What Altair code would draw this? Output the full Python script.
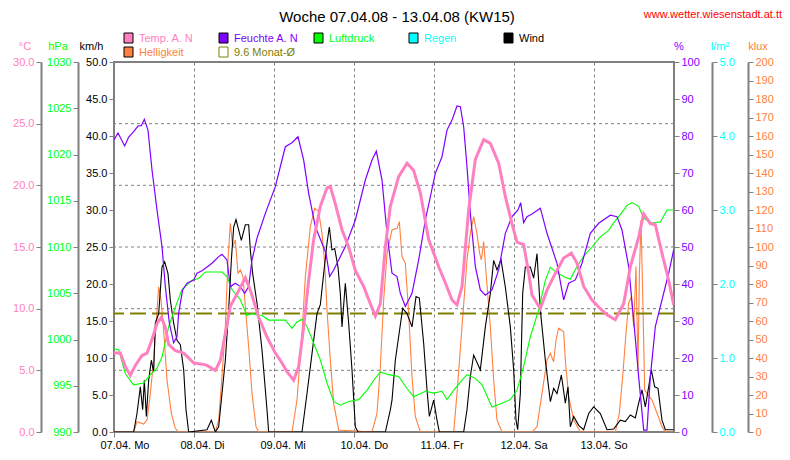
import altair as alt
import pandas as pd

FONT = "Liberation Sans"
GRAY = "#808080"
PINK = "#FF80C0"
PURPLE = "#8000FF"
GREEN = "#00FF00"
CYAN = "#00FFFF"
BLACK = "#000000"
ORANGE = "#FF8040"
OLIVE = "#808000"
RED = "#FF0000"

TITLE = "Woche 07.04.08 - 13.04.08 (KW15)"
URL = "www.wetter.wiesenstadt.at.tt"
DAY_LABELS = ["07.04. Mo", "08.04. Di", "09.04. Mi", "10.04. Do", "11.04. Fr", "12.04. Sa", "13.04. So"]
DAY_TICKS = [0, 24, 48, 72, 96, 120, 144]

# (hour since 07.04. 00:00, value)
temp = [(0, 6.4), (1.9, 6.4), (3.4, 5.3), (4.9, 4.6), (6.4, 5.4), (8.4, 6.2), (9.9, 6.4), (11.4, 7.5), (12.9, 8.8),
        (14.2, 9.3), (15.4, 8.5), (16.4, 7.1), (18.4, 6.6), (20.9, 6.4), (23.9, 5.6), (26.4, 5.5), (27.9, 5.4),
        (30.4, 5.0), (31.9, 5.8), (33.4, 8.0), (34.9, 10.2), (36.9, 11.2), (39.4, 12.5), (40.9, 11.5), (42.4, 10.2),
        (43.4, 9.3), (45.9, 7.7), (48.4, 6.4), (50.4, 5.6), (51.9, 4.9), (53.9, 4.2), (55.4, 5.3), (56.9, 8.5),
        (58.4, 12.3), (59.9, 15.6), (61.9, 18.3), (63.9, 19.8), (64.9, 19.9), (66.4, 18.5), (68.4, 16.4), (70.4, 15.0),
        (72.4, 13.1), (74.9, 11.8), (76.9, 10.4), (78.4, 9.4), (79.9, 10.4), (81.4, 15.0), (82.9, 18.3), (85.4, 20.7),
        (87.9, 21.8), (89.9, 21.2), (91.9, 19.4), (94.4, 15.6), (97.4, 13.4), (99.4, 12.1), (101.4, 10.7),
        (102.9, 10.3), (104.4, 11.8), (106.4, 18.0), (108.4, 22.1), (110.9, 23.7), (112.9, 23.4), (115.4, 21.8),
        (117.4, 19.1), (119.4, 16.9), (120.9, 15.4), (122.9, 15.2), (124.4, 12.9), (125.4, 11.1), (127.9, 10.0),
        (129.9, 11.5), (131.9, 12.6), (134.9, 14.1), (137.2, 14.5), (138.9, 13.7), (140.9, 11.8), (143.4, 10.7),
        (145.9, 10.0), (147.9, 9.5), (150.4, 9.1), (152.9, 10.4), (154.9, 13.4), (157.4, 15.8), (158.9, 17.7),
        (160.9, 16.9), (162.4, 16.8), (164.4, 14.5), (166.4, 12.3), (167.9, 10.3)]

feuchte = [(0, 78.9), (1.2, 80.8), (3.2, 77.3), (4.4, 79.7), (5.9, 81.2), (7.2, 82.7), (8.2, 82.8), (9.1, 84.5),
           (10.2, 81.6), (11.4, 70.8), (12.9, 60.0), (14.4, 50.1), (15.4, 39.3), (16.6, 29.5), (17.9, 24.1),
           (18.9, 25.8), (19.4, 32.2), (20.6, 38.4), (21.9, 40.2), (23.9, 41.1), (24.9, 42.9), (26.4, 43.6),
           (29.4, 45.6), (31.4, 47.4), (32.4, 48.0), (33.9, 46.5), (34.9, 39.3), (36.4, 40.2), (37.9, 39.3),
           (39.2, 37.5), (40.4, 39.3), (41.4, 46.5), (42.9, 52.4), (43.4, 53.7), (45.4, 59.1), (48.4, 66.3),
           (51.4, 77.1), (53.4, 78.2), (55.2, 79.8), (56.9, 73.5), (58.4, 64.5), (60.4, 55.5), (62.4, 51.0),
           (63.6, 48.3), (64.7, 42.0), (65.9, 43.8), (67.4, 46.5), (69.4, 50.1), (72.4, 57.3), (75.4, 68.1),
           (77.4, 73.5), (78.7, 75.9), (80.4, 68.1), (81.9, 53.7), (83.4, 42.9), (84.9, 42.0), (85.9, 37.5),
           (87.4, 33.9), (89.4, 37.5), (91.4, 46.5), (93.4, 57.3), (96.4, 69.9), (98.4, 74.4), (99.9, 81.6),
           (101.4, 84.3), (102.9, 88.1), (103.9, 87.9), (104.9, 82.5), (105.9, 71.7), (106.9, 59.1), (108.4, 44.7),
           (109.9, 38.4), (111.4, 37.0), (113.4, 38.4), (115.4, 43.8), (117.4, 53.7), (119.4, 58.2), (121.2, 60.0),
           (122.0, 62.0), (122.9, 56.6), (123.9, 58.2), (125.4, 58.9), (127.9, 60.5), (129.9, 53.7), (132.9, 45.6),
           (134.9, 35.7), (136.4, 40.2), (138.4, 41.1), (140.4, 45.6), (142.9, 53.7), (145.4, 56.4), (148.9, 58.6),
           (150.9, 58.2), (152.4, 54.6), (154.4, 44.7), (155.9, 30.3), (157.4, 14.9), (158.9, 0.5), (159.9, 0.5),
           (160.9, 14.9), (162.4, 28.5), (164.4, 35.7), (166.4, 42.9), (167.9, 49.2)]

luftdruck = [(0, 999.0), (1.4, 998.9), (3.4, 996.3), (5.9, 995.1), (8.9, 995.3), (10.9, 996.2), (12.9, 996.9),
             (14.4, 998.1), (16.4, 1001.4), (18.4, 1003.5), (20.4, 1005.4), (23.4, 1006.4), (25.4, 1006.6),
             (27.4, 1007.3), (32.4, 1007.3), (33.9, 1006.8), (35.4, 1005.4), (37.9, 1004.3), (39.9, 1002.6),
             (41.4, 1002.8), (44.4, 1002.6), (46.4, 1002.1), (51.4, 1002.1), (53.4, 1001.2), (54.9, 1001.9),
             (56.4, 1002.2), (57.9, 1001.4), (59.9, 999.6), (61.9, 997.8), (63.9, 995.3), (65.9, 993.3),
             (67.9, 992.9), (70.4, 993.3), (73.4, 993.5), (75.9, 994.5), (77.9, 995.6), (79.9, 996.5), (82.4, 996.2),
             (85.4, 996.0), (87.9, 994.7), (89.9, 993.8), (93.4, 994.4), (95.9, 994.2), (98.4, 994.4), (99.9, 993.5),
             (101.9, 994.5), (103.9, 995.4), (105.9, 996.2), (108.4, 995.8), (110.4, 995.1), (113.4, 992.7),
             (116.4, 993.1), (118.9, 993.5), (120.9, 994.5), (122.9, 997.1), (124.9, 1000.3), (127.4, 1003.2),
             (129.4, 1006.4), (130.9, 1007.8), (132.9, 1007.2), (134.9, 1006.8), (136.9, 1006.5), (138.9, 1007.9),
             (140.9, 1009.0), (143.4, 1010.0), (145.9, 1011.1), (148.4, 1011.8), (149.9, 1012.6), (151.9, 1013.5),
             (153.9, 1014.5), (155.4, 1014.8), (157.4, 1014.4), (158.9, 1013.1), (161.4, 1012.6), (163.9, 1012.7),
             (165.9, 1014.0), (167.9, 1014.0)]

regen = [(0, 0.0), (167.9, 0.0)]

wind = [(0, 0), (5.9, 0), (6.9, 2.5), (7.9, 6.1), (8.6, 3.0), (9.1, 7.0), (9.7, 2.1), (10.4, 7.0), (11.2, 9.7),
        (11.9, 8.1), (12.4, 14.7), (13.4, 16.0), (14.4, 22.3), (15.2, 23.0), (16.2, 21.4), (16.9, 17.8), (17.9, 14.7),
        (18.9, 12.4), (19.9, 11.8), (20.9, 8.4), (21.6, 3.0), (22.4, 0), (27.9, 0.3), (29.2, 1.6), (30.4, 0),
        (31.4, 0.7), (32.4, 5.2), (33.4, 9.7), (34.4, 16.5), (35.2, 23.2), (35.9, 27.7), (36.6, 28.7), (37.4, 27.3),
        (38.2, 25.9), (39.4, 28.0), (40.4, 28.0), (40.9, 24.6), (41.6, 21.4), (42.9, 17.4), (44.4, 11.1), (45.9, 3.0),
        (46.4, 0), (56.4, 0), (57.9, 5.2), (59.4, 10.6), (60.9, 16.0), (61.9, 17.2), (62.9, 21.4), (63.9, 25.5),
        (64.6, 27.7), (65.4, 24.6), (66.2, 24.8), (67.2, 22.3), (67.9, 18.7), (68.4, 14.2), (69.4, 20.1), (70.4, 14.7),
        (71.4, 8.4), (72.4, 0.7), (73.2, 0), (81.4, 0), (82.9, 3.0), (83.4, 4.3), (84.4, 9.7), (85.4, 12.9),
        (86.6, 16.7), (87.9, 16.0), (89.4, 14.2), (90.6, 18.3), (91.6, 18.1), (92.9, 12.0), (93.9, 5.7), (94.6, 2.1),
        (95.9, 4.3), (96.9, 1.6), (97.6, 0), (104.9, 0), (105.9, 3.0), (106.9, 7.5), (107.9, 10.4), (109.9, 8.4),
        (111.4, 14.2), (112.9, 18.7), (113.9, 23.2), (114.9, 21.9), (116.1, 23.3), (117.4, 19.6), (118.9, 14.2),
        (119.9, 8.4), (120.6, 1.6), (121.1, 0.3), (121.9, 5.2), (122.6, 18.7), (123.4, 22.3), (124.9, 22.3),
        (125.9, 20.8), (126.9, 24.1), (127.9, 16.5), (129.4, 9.7), (130.9, 4.1), (131.9, 5.9), (132.9, 5.2),
        (134.2, 7.7), (135.4, 3.9), (136.2, 6.1), (136.9, 0.7), (137.9, 2.1), (139.4, 0.9), (140.9, 0.3),
        (142.4, 2.5), (143.9, 3.4), (145.9, 2.5), (147.9, 0.3), (149.9, 0.4), (151.9, 1.6), (153.4, 1.4),
        (154.9, 2.3), (156.4, 1.9), (157.4, 3.9), (158.4, 5.7), (159.4, 3.4), (160.4, 6.1), (161.2, 8.4),
        (162.2, 6.1), (163.2, 5.9), (164.4, 1.6), (165.4, 0.3), (167.9, 0.3)]

helligkeit = [(0, 0), (5.9, 0), (6.9, 5.6), (8.9, 4.3), (9.9, 6.5), (10.9, 20.9), (11.9, 38.9), (12.7, 60.5),
              (13.4, 78.5), (14.1, 71.4), (14.9, 55.1), (15.9, 28.1), (17.2, 10.1), (18.4, 2.0), (19.4, 0), (30.4, 0),
              (31.4, 6.5), (32.4, 29.9), (33.4, 56.9), (34.2, 93.0), (34.9, 112.8), (35.6, 100.2), (36.4, 103.8),
              (37.2, 85.8), (37.9, 87.6), (38.7, 83.9), (39.4, 67.7), (40.4, 46.1), (41.4, 20.9), (42.6, 2.9),
              (43.4, 0), (53.4, 0), (54.9, 17.3), (56.4, 53.4), (57.4, 83.9), (58.9, 111.0), (60.2, 120.9),
              (61.4, 119.1), (62.4, 107.4), (63.2, 91.2), (63.9, 65.9), (64.9, 38.9), (65.9, 15.5), (67.4, 1.1),
              (77.4, 0), (78.9, 10.1), (79.9, 35.3), (80.9, 71.4), (81.9, 96.6), (83.4, 109.2), (84.9, 110.1),
              (85.6, 113.7), (86.4, 94.8), (87.4, 91.2), (88.4, 64.2), (89.4, 29.9), (90.4, 8.3), (91.9, 0),
              (101.9, 0), (102.9, 20.9), (104.4, 56.9), (105.9, 93.0), (106.9, 107.4), (107.9, 116.4), (108.9, 107.4),
              (109.7, 96.6), (110.2, 93.0), (110.9, 102.9), (111.7, 83.9), (112.9, 56.9), (113.9, 28.1), (114.9, 6.5),
              (116.4, 0), (125.4, 0), (126.9, 2.9), (128.4, 20.9), (129.9, 38.9), (130.9, 42.5), (131.9, 38.0),
              (132.6, 49.7), (133.4, 56.1), (134.9, 54.2), (135.4, 38.9), (136.4, 19.1), (137.9, 6.5), (139.9, 0),
              (150.4, 0), (151.6, 10.1), (152.6, 29.9), (153.6, 53.4), (154.4, 69.6), (155.2, 73.1), (155.9, 56.9),
              (156.6, 89.4), (157.2, 33.5), (157.6, 83.9), (158.1, 114.6), (158.6, 75.0), (159.2, 22.7),
              (159.9, 20.9), (161.4, 17.3), (162.9, 10.1), (164.4, 2.9), (165.4, 0), (167.9, 0)]

MONAT_AVG = 9.6
TEMP_GRID = [0, 5, 10, 15, 20, 25, 30]

W, H = 560, 370

label_expr = "[" + ",".join("'%s'" % s for s in DAY_LABELS) + "][round(datum.value/24)]"
xaxis = alt.Axis(values=DAY_TICKS, labelExpr=label_expr, grid=True, gridColor=GRAY, gridDash=[3, 3],
                 gridWidth=1, domain=False, ticks=True, tickColor=GRAY, tickSize=5, labelAlign="left",
                 labelOffset=-14, labelFont=FONT, labelFontSize=11, labelColor=BLACK, labelPadding=2,
                 title=None, labelFlush=False, labelOverlap=False)
X = alt.X("h:Q", scale=alt.Scale(domain=[0, 168], nice=False, zero=False), axis=xaxis)


def yaxis(orient, offset, values, fmt, color, domain=True):
    return alt.Axis(orient=orient, offset=offset, values=values, format=fmt, labelColor=color,
                    labelFont=FONT, labelFontSize=11, labelPadding=2, tickColor=GRAY, tickSize=5,
                    tickWidth=1, domain=domain, domainColor=GRAY, domainWidth=2, grid=False, title=None,
                    labelFlush=False, labelOverlap=False)


def line_layer(pairs, domain, color, width, axis, opacity=1.0):
    df = pd.DataFrame(pairs, columns=["h", "v"])
    return alt.Chart(df).mark_line(color=color, strokeWidth=width, strokeOpacity=opacity, clip=True).encode(
        x=X,
        y=alt.Y("v:Q", scale=alt.Scale(domain=domain, nice=False, zero=False), axis=axis),
    )


def text_layer(s, x, y, color, size=11, align="left"):
    return alt.Chart(pd.DataFrame({"t": [s]})).mark_text(
        align=align, baseline="alphabetic", font=FONT, fontSize=size, color=color
    ).encode(x=alt.value(x), y=alt.value(y), text="t:N")


def box_layer(x1, x2, y1, y2, fill, stroke=BLACK):
    return alt.Chart(pd.DataFrame({"a": [0]})).mark_rect(
        fill=fill, stroke=stroke, strokeWidth=1
    ).encode(x=alt.value(x1), x2=alt.value(x2), y=alt.value(y1), y2=alt.value(y2))


grid_layer = alt.Chart(pd.DataFrame({"g": TEMP_GRID})).mark_rule(
    color=GRAY, strokeDash=[3, 3], strokeWidth=1
).encode(y=alt.Y("g:Q", scale=alt.Scale(domain=[0, 30], nice=False, zero=False), axis=None))

monat_layer = alt.Chart(pd.DataFrame({"m": [MONAT_AVG]})).mark_rule(
    color=OLIVE, strokeDash=[16, 6], strokeWidth=2
).encode(y=alt.Y("m:Q", scale=alt.Scale(domain=[0, 30], nice=False, zero=False), axis=None))

layers = [
    grid_layer,
    line_layer(regen, [0, 5], CYAN, 1, yaxis("right", 38, [0, 1, 2, 3, 4, 5], ".1f", CYAN), opacity=0.0),
    line_layer(helligkeit, [0, 200], ORANGE, 1.1, yaxis("right", 74, list(range(0, 201, 10)), "d", ORANGE)),
    monat_layer,
    line_layer(wind, [0, 50], BLACK, 1.1, yaxis("left", 0, list(range(0, 51, 5)), ".1f", BLACK, domain=False)),
    line_layer(luftdruck, [990, 1030], GREEN, 1.1, yaxis("left", 36, list(range(990, 1031, 5)), "d", GREEN)),
    line_layer(feuchte, [0, 100], PURPLE, 1.2, yaxis("right", 0, list(range(0, 101, 10)), "d", PURPLE, domain=False)),
    line_layer(temp, [0, 30], PINK, 3, yaxis("left", 73, TEMP_GRID, ".1f", PINK)),
]

# header texts (positions relative to the plot area's top-left corner)
layers += [
    text_layer(TITLE, 283, -40, BLACK, size=15, align="center"),
    text_layer(URL, 668, -44.5, RED, size=11, align="right"),
    text_layer("°C", -89, -12, PINK, align="center"),
    text_layer("hPa", -56, -12, GREEN, align="center"),
    text_layer("km/h", -22.5, -12, BLACK, align="center"),
    text_layer("%", 565, -12, PURPLE, align="center"),
    text_layer("l/m²", 606, -12, CYAN, align="center"),
    text_layer("klux", 644, -12, ORANGE, align="center"),
]

legend_items = [
    ("Temp. A. N", PINK, 10, -29, BLACK, PINK),
    ("Helligkeit", ORANGE, 10, -15, BLACK, ORANGE),
    ("Feuchte A. N", PURPLE, 105, -29, BLACK, PURPLE),
    ("9.6 Monat-Ø", OLIVE, 105, -15, OLIVE, "transparent"),
    ("Luftdruck", GREEN, 200, -29, BLACK, GREEN),
    ("Regen", CYAN, 295, -29, BLACK, CYAN),
    ("Wind", BLACK, 390, -29, BLACK, BLACK),
]
for name, col, lx, ly, stroke, fill in legend_items:
    layers.append(box_layer(lx, lx + 9, ly, ly + 10, fill, stroke))
    layers.append(text_layer(name, lx + 15, ly + 8.5, col))

chart = alt.layer(*layers).resolve_scale(y="independent").properties(
    width=W, height=H,
    padding={"left": 106, "top": 54, "right": 108, "bottom": 26},
    autosize=alt.AutoSizeParams(type="none"),
    background="white",
).configure_view(stroke=GRAY, strokeWidth=2)

chart.save("out.html", embed_options={"renderer": "svg", "actions": False})
